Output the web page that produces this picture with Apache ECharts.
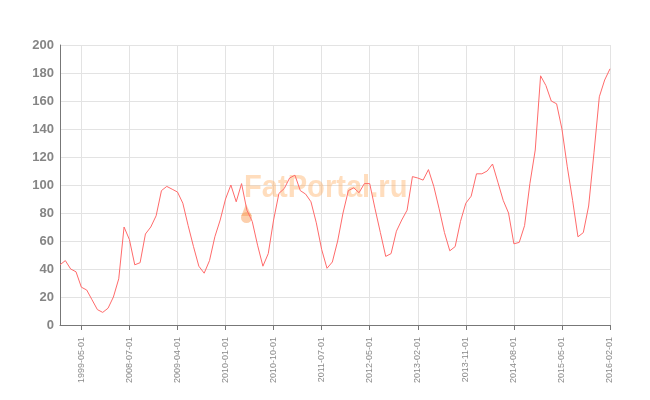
<!DOCTYPE html>
<html>
<head>
<meta charset="utf-8">
<script src="https://cdn.jsdelivr.net/npm/echarts@6/dist/echarts.min.js"></script>
<style>
html,body{margin:0;padding:0;background:#fff;}
#chart{width:650px;height:400px;}
</style>
</head>
<body>
<div id="chart"></div>
<script>
var categories = [
  '1999-01-01','1999-02-01','1999-03-01','1999-04-01','1999-05-01',
  '2007-11-01','2007-12-01','2008-01-01','2008-02-01','2008-03-01','2008-04-01','2008-05-01','2008-06-01',
  '2008-07-01','2008-08-01','2008-09-01','2008-10-01','2008-11-01','2008-12-01',
  '2009-01-01','2009-02-01','2009-03-01','2009-04-01','2009-05-01','2009-06-01','2009-07-01','2009-08-01','2009-09-01','2009-10-01','2009-11-01','2009-12-01',
  '2010-01-01','2010-02-01','2010-03-01','2010-04-01','2010-05-01','2010-06-01','2010-07-01','2010-08-01','2010-09-01','2010-10-01','2010-11-01','2010-12-01',
  '2011-01-01','2011-02-01','2011-03-01','2011-04-01','2011-05-01','2011-06-01','2011-07-01','2011-08-01','2011-09-01','2011-10-01','2011-11-01',
  '2012-01-01','2012-02-01','2012-03-01','2012-04-01','2012-05-01','2012-06-01','2012-07-01','2012-08-01','2012-09-01','2012-10-01','2012-11-01','2012-12-01',
  '2013-01-01','2013-02-01','2013-03-01','2013-04-01','2013-05-01','2013-06-01','2013-07-01','2013-08-01','2013-09-01','2013-10-01','2013-11-01','2013-12-01',
  '2014-01-01','2014-02-01','2014-03-01','2014-04-01','2014-05-01','2014-06-01','2014-07-01','2014-08-01','2014-09-01','2014-10-01','2014-11-01','2014-12-01',
  '2015-01-01','2015-02-01','2015-03-01','2015-04-01','2015-05-01','2015-06-01','2015-07-01','2015-08-01','2015-09-01','2015-10-01','2015-11-01','2015-12-01',
  '2016-01-01','2016-02-01'
];
var values = [
  43, 46, 40, 38, 27, 25, 18, 11, 9, 12, 20, 33, 70,
  61, 43, 44.5, 65, 70, 78,
  96, 99, 97, 95, 87, 71, 56, 42, 37, 46, 63, 75,
  90, 100, 88, 101, 82, 74, 57, 42, 51, 75, 94, 97.5,
  105, 107, 96, 93.5, 88, 73, 54, 40.5, 45, 60, 80,
  96, 98, 94.5, 101, 101, 83, 66, 49, 51, 67, 75, 82,
  106, 105, 103.5, 111, 99, 83, 66, 53, 56, 74, 87, 92,
  108, 108, 110, 115, 102, 89, 80, 58, 59, 71, 101, 125,
  178, 171, 160, 158, 140, 113, 89, 63, 66, 85, 123, 163,
  175, 183
];
var yTicks = [0, 20, 40, 60, 80, 100, 120, 140, 160, 180, 200];
var watermarkText = 'FatPortal.ru';

function shown(i) { return (i - 4) % 9 === 0 && i >= 4; }

var chart = echarts.init(document.getElementById('chart'), null, {renderer: 'canvas'});
chart.setOption({
  animation: false,
  backgroundColor: '#ffffff',
  grid: {left: 60, right: 40, top: 45, bottom: 75, containLabel: false},
  xAxis: {
    type: 'category',
    data: categories,
    boundaryGap: false,
    axisLine: {show: true, lineStyle: {color: '#777777', width: 1}},
    axisTick: {show: true, interval: function (i) { return shown(i); }, length: 5, lineStyle: {color: '#777777'}},
    axisLabel: {
      interval: function (i) { return shown(i); },
      rotate: 90,
      color: '#8a8a8a',
      fontFamily: 'Liberation Sans, Arial, sans-serif',
      fontSize: 9,
      margin: 12
    },
    splitLine: {show: true, interval: function (i) { return shown(i); }, lineStyle: {color: '#e3e3e3', width: 1}}
  },
  yAxis: {
    type: 'value',
    min: yTicks[0],
    max: yTicks[yTicks.length - 1],
    interval: 20,
    axisLine: {show: true, lineStyle: {color: '#777777', width: 1}},
    axisTick: {show: false},
    axisLabel: {
      color: '#858585',
      fontWeight: 'bold',
      fontFamily: 'Liberation Sans, Arial, sans-serif',
      fontSize: 13,
      margin: 6
    },
    splitLine: {show: true, lineStyle: {color: '#e3e3e3', width: 1}}
  },
  graphic: [
    {
      type: 'text', x: 244, y: 172, scaleX: 0.91, z: 1, silent: true,
      style: {text: watermarkText, fill: 'rgba(255,170,90,0.4)', font: 'bold 32px "Liberation Sans", Arial, sans-serif'}
    },
    {
      type: 'circle', z: 1, silent: true,
      shape: {cx: 246.5, cy: 217.5, r: 5.5},
      style: {fill: 'rgba(250,160,90,0.5)'}
    },
    {
      type: 'polygon', z: 1, silent: true,
      shape: {points: [[246, 204], [241.3, 216], [251.7, 216]]},
      style: {fill: 'rgba(250,160,90,0.5)'}
    }
  ],
  series: [{
    type: 'line',
    data: values,
    showSymbol: false,
    symbol: 'none',
    lineStyle: {color: '#ff6b6b', width: 1},
    z: 3
  }]
});
</script>
</body>
</html>
